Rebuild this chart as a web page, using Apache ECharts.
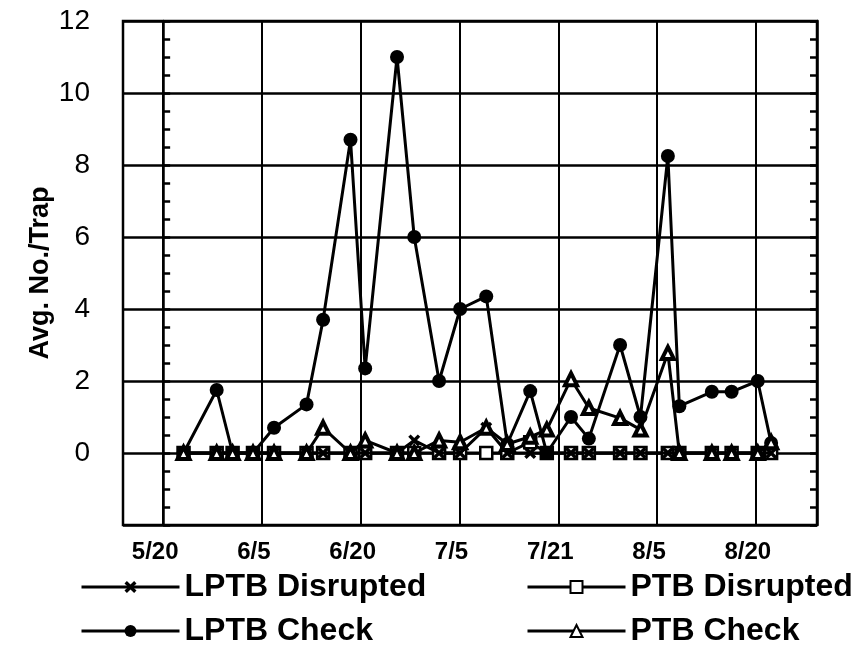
<!DOCTYPE html>
<html><head><meta charset="utf-8">
<script src="https://cdn.jsdelivr.net/npm/echarts@6/dist/echarts.min.js"></script>
<style>html,body{margin:0;padding:0;background:#fff}#c{width:854px;height:660px}</style>
</head><body><div id="c"></div>
<script>
// x = days after 5/20 (label positions are evenly spaced, 15.5 days apart)
const sampleDays = [3.2, 8.4, 10.9, 14.1, 17.4, 22.5, 25.1, 29.4, 31.7, 36.7, 39.4, 43.3, 46.6, 50.7, 54.0, 57.6, 60.2, 64.0, 66.8, 71.7, 74.9, 79.2, 81.0, 86.1, 89.2, 93.3, 95.4];
const lptbDisrupted = [0,0,0,0,0,0,0,0,0,0,0.35,0,0,0.7,0,0,0,0,0,0,0,0,0,0,0,0,0];
const ptbDisrupted  = [0,0,0,0,0,0,0,0,0,0,0,0,0,0,0,0.3,0,0,0,0,0,0,0,0,0,0,0];
const lptbCheck     = [0,1.75,0,0,0.7,1.35,3.7,8.7,2.35,11.0,6.0,2.0,4.0,4.35,0.25,1.72,0,1.0,0.4,3.0,1.0,8.25,1.3,1.7,1.7,2.0,0.28];
const ptbCheck      = [0,0,0,0,0,0,0.7,0,0.35,0,0,0.35,0.3,0.7,0.25,0.45,0.65,2.05,1.25,0.97,0.65,2.78,0,0,0,0,0.3];
const dateTickDays   = [0, 15.5, 31, 46.5, 62, 77.5, 93];
const dateTickLabels = ['5/20','6/5','6/20','7/5','7/21','8/5','8/20'];
const seriesNames = ['LPTB Disrupted','PTB Disrupted','LPTB Check','PTB Check'];

const pairs = ys => sampleDays.map((d, i) => [d, ys[i]]);
const X_PATH = 'path://M0,2L2,0L5,3L8,0L10,2L7,5L10,8L8,10L5,7L2,10L0,8L3,5Z';
const FONT = 'Liberation Sans, Arial, sans-serif';
const chart = echarts.init(document.getElementById('c'), null, {renderer: 'canvas'});

const baseLine = {type: 'line', smooth: false, lineStyle: {color: '#000', width: 3}, itemStyle: {color: '#000'}, animation: false};

const legendBox = (name, left, top) => ({
  data: [name], left: left, top: top, padding: 0, itemWidth: 98, itemHeight: 15,
  lineStyle: {width: 3, color: '#000'},
  textStyle: {fontFamily: FONT, fontSize: 32, fontWeight: 'bold', color: '#000'},
  selectedMode: false
});

chart.setOption({
  backgroundColor: '#fff',
  animation: false,
  grid: {left: 123, right: 37, top: 21, bottom: 135, show: true, borderColor: '#000', borderWidth: 2.5, containLabel: false},
  xAxis: {
    type: 'value', min: -6.3, max: 102.6,
    axisLine: {show: false},
    axisTick: {show: false, customValues: dateTickDays},
    splitLine: {show: true, lineStyle: {color: '#000', width: 2}},
    axisLabel: {
      customValues: dateTickDays,
      formatter: v => { const i = dateTickDays.findIndex(d => Math.abs(d - v) < 0.01); return i >= 0 ? dateTickLabels[i] : ''; },
      fontFamily: FONT, fontSize: 24, fontWeight: 'bold', color: '#000', margin: 15,
      padding: [0, 16, 0, 0]
    }
  },
  yAxis: [{
    type: 'value', min: -2, max: 12, interval: 2,
    axisLine: {show: true, lineStyle: {color: '#000', width: 2.5}},
    axisTick: {show: true, inside: true, length: 7, lineStyle: {color: '#000', width: 2.5}},
    minorTick: {show: true, splitNumber: 4, length: 7, lineStyle: {color: '#000', width: 2.5}},
    splitLine: {show: true, lineStyle: {color: '#000', width: 2.5}},
    axisLabel: {formatter: v => v < 0 ? '' : String(v), fontFamily: FONT, fontSize: 28, color: '#000', margin: 33},
    name: 'Avg. No./Trap', nameLocation: 'middle', nameGap: 69, nameRotate: 90, nameMoveOverlap: false,
    nameTextStyle: {fontFamily: FONT, fontSize: 27, fontWeight: 'bold', color: '#000'}
  }, {
    type: 'value', min: -2, max: 12, interval: 2, position: 'right',
    axisLine: {show: true, lineStyle: {color: '#000', width: 2.5}},
    axisTick: {show: true, inside: true, length: 7, lineStyle: {color: '#000', width: 2.5}},
    minorTick: {show: true, splitNumber: 4, length: 7, lineStyle: {color: '#000', width: 2.5}},
    splitLine: {show: false}, axisLabel: {show: false}
  }],
  legend: [
    legendBox(seriesNames[0], 80, 571),
    legendBox(seriesNames[1], 526, 571),
    legendBox(seriesNames[2], 80, 615),
    legendBox(seriesNames[3], 526, 615)
  ],
  series: [
    Object.assign({}, baseLine, {name: seriesNames[1], z: 2, data: pairs(ptbDisrupted), symbol: 'rect', symbolSize: 12,
      itemStyle: {color: '#fff', borderColor: '#000', borderWidth: 2.5}}),
    Object.assign({}, baseLine, {name: seriesNames[0], z: 3, data: pairs(lptbDisrupted), symbol: X_PATH, symbolSize: 12,
      itemStyle: {color: '#000'}}),
    Object.assign({}, baseLine, {name: seriesNames[2], z: 4, data: pairs(lptbCheck), symbol: 'circle', symbolSize: 14,
      itemStyle: {color: '#000', borderColor: '#000', borderWidth: 0}}),
    Object.assign({}, baseLine, {name: seriesNames[3], z: 5, data: pairs(ptbCheck), symbol: 'triangle', symbolSize: 12,
      itemStyle: {color: '#fff', borderColor: '#000', borderWidth: 4}})
  ]
});
</script></body></html>
